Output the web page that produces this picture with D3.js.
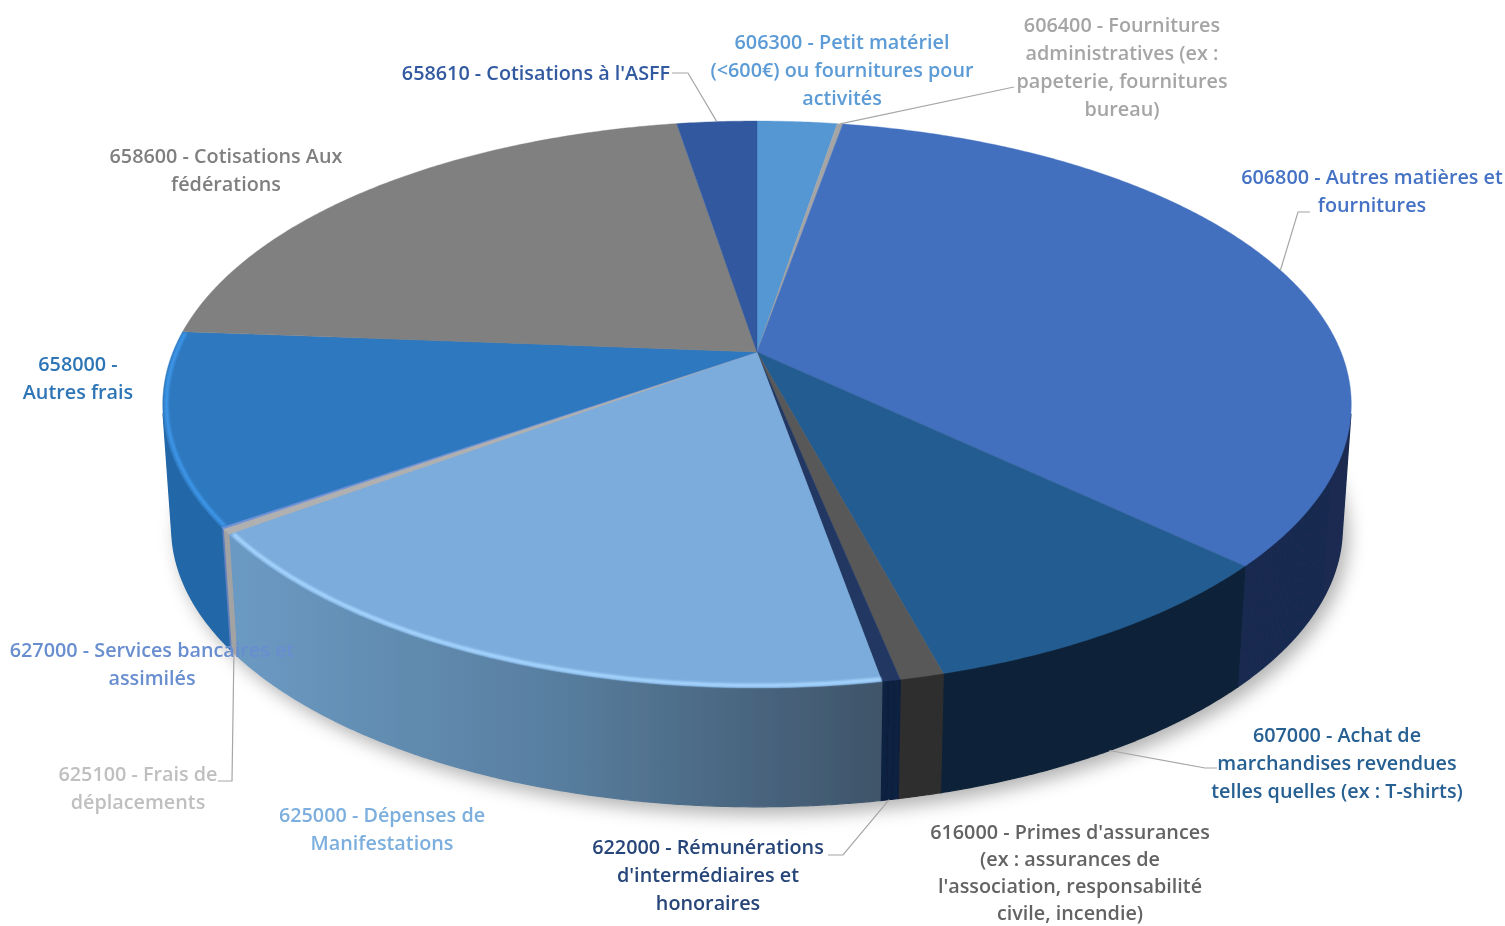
<!DOCTYPE html>
<html>
<head>
<meta charset="utf-8">
<script src="https://cdn.jsdelivr.net/npm/d3@7"></script>
<style>
html, body { margin: 0; padding: 0; background: #fff; overflow: hidden; }
</style>
</head>
<body>
<div id="chart"></div>
<script>
// values, share of the total in %
const categories = [
  "606300 - Petit matériel (<600€) ou fournitures pour activités",
  "606400 - Fournitures administratives (ex : papeterie, fournitures bureau)",
  "606800 - Autres matières et fournitures",
  "607000 - Achat de marchandises revendues telles quelles (ex : T-shirts)",
  "616000 - Primes d'assurances (ex : assurances de l'association, responsabilité civile, incendie)",
  "622000 - Rémunérations d'intermédiaires et honoraires",
  "625000 - Dépenses de Manifestations",
  "625100 - Frais de déplacements",
  "627000 - Services bancaires et assimilés",
  "658000 - Autres frais",
  "658600 - Cotisations Aux fédérations",
  "658610 - Cotisations à l'ASFF"
]
const values = [2.6, 0.18, 34.2, 8.8, 1.0, 0.42, 17.7, 0.3, 0.1, 10.9, 21.2, 2.6]

const labelLines = [
  ["606300 - Petit matériel", "(<600€) ou fournitures pour", "activités"],
  ["606400 - Fournitures", "administratives (ex :", "papeterie, fournitures", "bureau)"],
  ["606800 - Autres matières et", "fournitures"],
  ["607000 - Achat de", "marchandises revendues", "telles quelles (ex : T-shirts)"],
  ["616000 - Primes d'assurances", "(ex : assurances de", "l'association, responsabilité", "civile, incendie)"],
  ["622000 - Rémunérations", "d'intermédiaires et", "honoraires"],
  ["625000 - Dépenses de", "Manifestations"],
  ["625100 - Frais de", "déplacements"],
  ["627000 - Services bancaires et", "assimilés"],
  ["658000 -", "Autres frais"],
  ["658600 - Cotisations Aux", "fédérations"],
  ["658610 - Cotisations à l'ASFF"]
]

const topColors = ["#5597d3", "#a5a5a5", "#4270bf", "#245c90", "#595959", "#203864",
  "#7cacdc", "#b0b0b0", "#6f92d8", "#2e78bf", "#808080", "#30589f"]
const wallColors = ["#3c6a94", "#747474", "#1a2c51", "#0f2439", "#2e2e2e", "#10203f",
  "url(#wall625)", "#a3a3a3", "#5f7fbf", "#2468a8", "#5a5a5a", "#223e70"]
const textColors = ["#5b9bd5", "#a5a5a5", "#4472c4", "#255e91", "#636363", "#264478",
  "#7cafdd", "#bfbfbf", "#698ed0", "#2e75b6", "#7f7f7f", "#335aa1"]

// label anchor: centre x, centre y of first line
const labelPos = [[842, 42], [1122, 25], [1372, 177], [1337, 735], [1070, 832], [708, 847],
  [382, 815], [138, 774], [152, 650], [78, 364], [226, 156], [536, 73]]
// the 616000 label is tighter so its last line stays inside the page
const labelLeading = [28, 28, 28, 28, 27, 28, 28, 28, 28, 28, 28, 28]

// leader lines: slice index, which rim it lands on, start and elbow
const leaders = [
  {i: 11, rim: "top", pts: [[672, 73], [688, 73]]},
  {i: 1, rim: "top", pts: [[1014, 87]]},
  {i: 2, rim: "top", pts: [[1310, 212], [1298, 212]]},
  {i: 3, rim: "bottom", pts: [[1217, 768], [1205, 768]]},
  {i: 5, rim: "bottom", pts: [[828, 855], [843, 855]]},
  {i: 7, rim: "bottom", pts: [[218, 781], [232, 781]]}
]

const width = 1505
const height = 926
const fontSize = 19.8

// the tilted pie: perspective projection of a unit circle
const cx = 757
const topCy = 352
const bottomCy = 476
const bottomScale = 0.985
const radiusX = 584
const radiusY = 273.7
const persp = 0.185

function project(angle, r, level) {
  const u = Math.sin(angle) * r
  const v = Math.cos(angle) * r
  const w = 1 + persp * v
  const s = level == "top" ? 1 : bottomScale
  const cy = level == "top" ? topCy : bottomCy
  return [cx + s * radiusX * u / w, cy - s * radiusY * v / w]
}

function arcPoints(a0, a1, level) {
  const step = Math.PI / 360
  return d3.range(a0, a1, step).concat([a1]).map(a => project(a, 1, level))
}

const line = d3.line()
const pie = d3.pie().sort(null).value(d => d)
const arcs = pie(values)

// one small quad per arc step, only the ones facing the viewer
function wallPath(d) {
  const t = arcPoints(d.startAngle, d.endAngle, "top")
  const b = arcPoints(d.startAngle, d.endAngle, "bottom")
  return d3.range(t.length - 1)
    .map(i => [t[i], t[i + 1], b[i + 1], b[i]])
    .filter(quad => d3.polygonArea(quad) > 0)
    .map(quad => line(quad) + "Z")
    .join("")
}

const svg = d3.select("#chart")
  .append("svg")
  .attr("width", width)
  .attr("height", height)
  .attr("viewBox", [0, 0, width, height])
  .style("display", "block")

const defs = svg.append("defs")
defs.append("filter").attr("id", "shadow")
  .attr("x", "-10%").attr("y", "-10%").attr("width", "120%").attr("height", "120%")
  .append("feGaussianBlur").attr("stdDeviation", 9)
defs.append("filter").attr("id", "soft")
  .attr("x", "-5%").attr("y", "-5%").attr("width", "110%").attr("height", "110%")
  .append("feGaussianBlur").attr("stdDeviation", 0.7)
defs.append("filter").attr("id", "glow")
  .attr("filterUnits", "userSpaceOnUse")
  .attr("x", 0).attr("y", 0).attr("width", width).attr("height", height)
  .append("feGaussianBlur").attr("stdDeviation", 1.3)
defs.append("filter").attr("id", "softText")
  .attr("filterUnits", "userSpaceOnUse")
  .attr("x", 0).attr("y", 0).attr("width", width).attr("height", height)
  .append("feGaussianBlur").attr("stdDeviation", 0.5)

const wallGrad = defs.append("linearGradient").attr("id", "wall625")
  .attr("gradientUnits", "userSpaceOnUse")
  .attr("x1", 232).attr("x2", 882).attr("y1", 0).attr("y2", 0)
wallGrad.append("stop").attr("offset", 0).attr("stop-color", "#6b9ac3")
wallGrad.append("stop").attr("offset", 0.5).attr("stop-color", "#587e9f")
wallGrad.append("stop").attr("offset", 1).attr("stop-color", "#3f5469")

const layer_shadow = svg.append("g")
const layer_pie = svg.append("g").attr("filter", "url(#soft)")
const layer_wall = layer_pie.append("g")
const layer_top = layer_pie.append("g")
const layer_rim = layer_pie.append("g")
const layer_leader = svg.append("g")
const layer_label = svg.append("g").attr("filter", "url(#softText)")

layer_shadow.append("path")
  .attr("d", line(arcPoints(0, 2 * Math.PI, "bottom")) + "Z")
  .attr("transform", "translate(6,8)")
  .attr("fill", "#000")
  .attr("fill-opacity", 0.3)
  .attr("filter", "url(#shadow)")

// side walls first, the top faces go over them
layer_wall.selectAll("path")
  .data(arcs)
  .join("path")
  .attr("fill", (d, i) => wallColors[i])
  .attr("stroke", (d, i) => wallColors[i])
  .attr("stroke-width", 1.2)
  .attr("d", wallPath)

layer_top.selectAll("path")
  .data(arcs)
  .join("path")
  .attr("fill", (d, i) => topColors[i])
  .attr("stroke", (d, i) => topColors[i])
  .attr("stroke-width", 0.4)
  .attr("d", d => line([project(0, 0, "top")]
    .concat(arcPoints(d.startAngle, d.endAngle, "top"))) + "Z")

// light catching the bevel on the two front left slices
const rimColors = {6: "#a6d6ff", 9: "#3d97ea"}
layer_rim.selectAll("path")
  .data(arcs.filter(d => rimColors[d.index]))
  .join("path")
  .attr("fill", "none")
  .attr("stroke", d => rimColors[d.index])
  .attr("stroke-width", 3.5)
  .attr("filter", "url(#glow)")
  .attr("d", d => line(d3.range(d.startAngle, d.endAngle, Math.PI / 360)
    .map(a => project(a, 0.994, "top"))))

layer_leader.selectAll("path")
  .data(leaders)
  .join("path")
  .attr("fill", "none")
  .attr("stroke", "#a6a6a6")
  .attr("stroke-width", 1.2)
  .attr("d", d => {
    const a = (arcs[d.i].startAngle + arcs[d.i].endAngle) / 2
    return line(d.pts.concat([project(a, 1, d.rim)]))
  })

layer_label.selectAll("text")
  .data(labelLines)
  .join("text")
  .attr("text-anchor", "middle")
  .attr("font-family", "'Open Sans', 'Noto Sans', sans-serif")
  .attr("font-weight", 600)
  .attr("font-size", fontSize)
  .attr("fill", (d, i) => textColors[i])
  .each(function(d, i) {
    d3.select(this).selectAll("tspan")
      .data(d)
      .join("tspan")
      .attr("x", labelPos[i][0])
      .attr("y", (t, j) => labelPos[i][1] + 7 + j * labelLeading[i])
      .text(t => t)
  })
</script>
</body>
</html>
